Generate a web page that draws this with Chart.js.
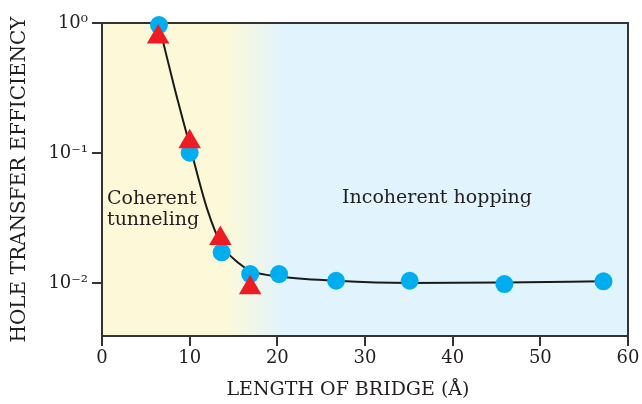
<!DOCTYPE html>
<html>
<head>
<meta charset="utf-8">
<script src="https://cdn.jsdelivr.net/npm/chart.js@4"></script>
<style>
  html, body { margin: 0; padding: 0; background: #fff; }
  #wrap { width: 642px; height: 404px; }
</style>
</head>
<body>
<div id="wrap"><canvas id="chart" width="642" height="404"></canvas></div>
<script>
// values
const circleX = [6.5, 10.0, 13.65, 16.9, 20.2, 26.7, 35.1, 45.9, 57.2];
const circleY = [0.965, 0.1005, 0.0172, 0.0117, 0.0117, 0.0104, 0.0104, 0.0098, 0.0103];
const triangleX = [6.4, 10.0, 13.5, 16.9];
const triangleY = [0.78, 0.122, 0.022, 0.0092];
// smooth fit curve, sampled by eye
const curveX = [6.5, 8.2, 10.0, 12.0, 13.6, 15.5, 17.0, 20.2, 26.7, 35.1, 45.9, 57.2];
const curveY = [0.965, 0.33, 0.115, 0.037, 0.0199, 0.0144, 0.0124, 0.0112, 0.0104, 0.0100, 0.0101, 0.0103];
const yTickValues = [1, 0.1, 0.01];
const yTickLabels = ['10⁰', '10⁻¹', '10⁻²'];

const SERIF = '"DejaVu Serif", serif';
const INK = '#231f20';

const pts = (xs, ys) => xs.map((x, i) => ({ x, y: ys[i] }));

// yellow -> blue background, box round the plot, region labels
const backdrop = {
  id: 'backdrop',
  beforeDraw(chart) {
    const { ctx, chartArea: a, scales: { x } } = chart;
    const g = ctx.createLinearGradient(x.getPixelForValue(14), 0, x.getPixelForValue(20.8), 0);
    g.addColorStop(0, '#fdf9d8');
    g.addColorStop(1, '#e1f3fc');
    ctx.save();
    ctx.fillStyle = g;
    ctx.fillRect(a.left, a.top, a.right - a.left, a.bottom - a.top);
    ctx.restore();
  },
  beforeDatasetsDraw(chart) {
    const { ctx, chartArea: a } = chart;
    ctx.save();
    ctx.strokeStyle = '#333';
    ctx.lineWidth = 2;
    ctx.strokeRect(a.left, a.top, a.right - a.left, a.bottom - a.top);
    ctx.fillStyle = INK;
    ctx.font = '19px ' + SERIF;
    ctx.textBaseline = 'alphabetic';
    ctx.textAlign = 'left';
    ctx.fillText('Coherent', a.left + 5, 204);
    ctx.fillText('tunneling', a.left + 5, 225);
    ctx.fillText('Incoherent hopping', 342, 203);
    // x title sits a little left of centre in the original
    ctx.textAlign = 'center';
    ctx.textBaseline = 'middle';
    ctx.fillText('LENGTH OF BRIDGE (Å)', 348, 390);
    ctx.restore();
  }
};

new Chart(document.getElementById('chart').getContext('2d'), {
  type: 'scatter',
  data: {
    datasets: [
      {
        label: 'triangles',
        data: pts(triangleX, triangleY),
        pointStyle: 'triangle',
        pointRadius: 13,
        pointBackgroundColor: '#ed1c24',
        pointBorderWidth: 0,
        clip: false
      },
      {
        label: 'circles',
        data: pts(circleX, circleY),
        pointStyle: 'circle',
        pointRadius: 9,
        pointBackgroundColor: '#00aeef',
        pointBorderWidth: 0,
        clip: false
      },
      {
        label: 'fit',
        data: pts(curveX, curveY),
        showLine: true,
        pointRadius: 0,
        borderColor: '#1a1a1a',
        borderWidth: 2,
        cubicInterpolationMode: 'monotone',
        clip: false
      }
    ]
  },
  options: {
    responsive: false,
    animation: false,
    events: [],
    layout: { padding: { left: 0, top: 23, right: 14, bottom: 0 } },
    plugins: { legend: { display: false }, tooltip: { enabled: false } },
    scales: {
      x: {
        type: 'linear',
        min: 0, max: 60,
        ticks: { stepSize: 10, color: INK, padding: 2, font: { family: SERIF, size: 18 } },
        grid: { drawOnChartArea: false, drawTicks: true, tickLength: 10, color: '#333', lineWidth: 2 },
        border: { color: '#333', width: 2 },
        afterFit(s) { s.height = 68; }
      },
      y: {
        type: 'logarithmic',
        min: Math.pow(10, -2.408), max: 1,
        afterBuildTicks(s) { s.ticks = yTickValues.map(v => ({ value: v })); },
        ticks: {
          color: INK, padding: 4, font: { family: SERIF, size: 18 },
          callback: v => yTickLabels[yTickValues.indexOf(v)]
        },
        grid: { drawOnChartArea: false, drawTicks: true, tickLength: 10, color: '#333', lineWidth: 2 },
        border: { color: '#333', width: 2 },
        title: {
          display: true, text: 'HOLE TRANSFER EFFICIENCY', color: INK,
          font: { family: SERIF, size: 20 }, padding: { top: 8, bottom: 0 }
        },
        afterFit(s) { s.width = 102; }
      }
    }
  },
  plugins: [backdrop]
});
</script>
</body>
</html>
